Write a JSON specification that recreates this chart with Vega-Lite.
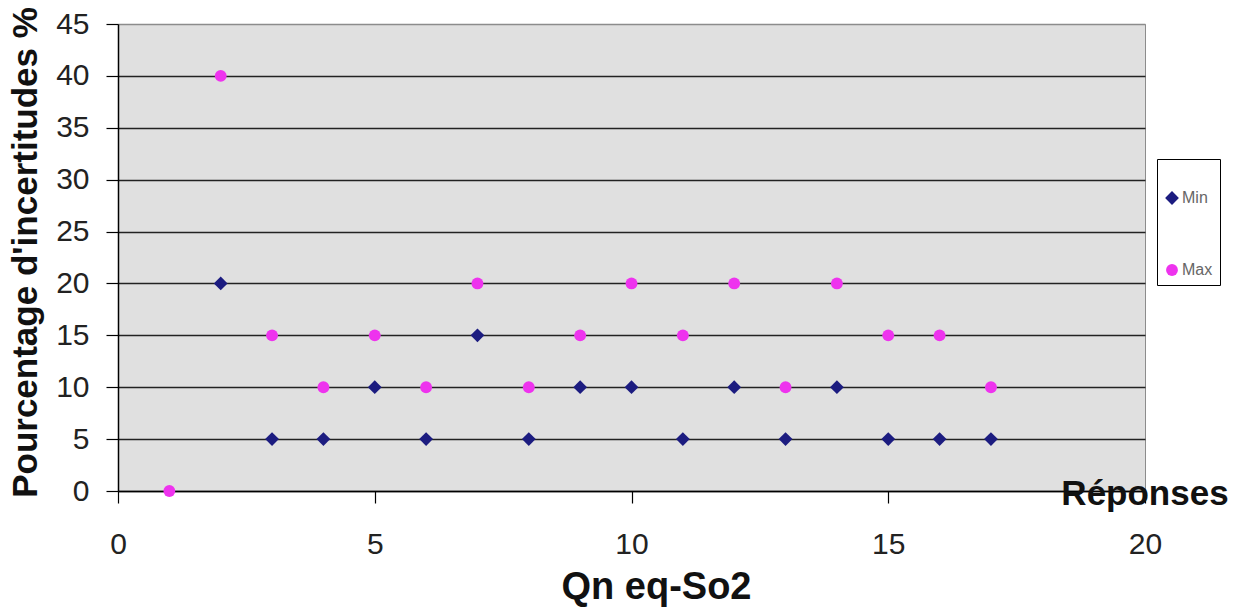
{
  "$schema": "https://vega.github.io/schema/vega-lite/v6.json",
  "width": 1027,
  "height": 467,
  "autosize": {"type": "none"},
  "padding": {"left": 118, "top": 24, "right": 96, "bottom": 119},
  "background": "white",
  "config": {
    "font": "Liberation Sans",
    "view": {"fill": "#e0e0e0", "stroke": "#8c8c8c", "strokeWidth": 1}
  },
  "layer": [
    {
      "data": {"values": [
        {"q": 2, "pct": 20, "serie": "Min"},
        {"q": 3, "pct": 5, "serie": "Min"},
        {"q": 4, "pct": 5, "serie": "Min"},
        {"q": 5, "pct": 10, "serie": "Min"},
        {"q": 6, "pct": 5, "serie": "Min"},
        {"q": 7, "pct": 15, "serie": "Min"},
        {"q": 8, "pct": 5, "serie": "Min"},
        {"q": 9, "pct": 10, "serie": "Min"},
        {"q": 10, "pct": 10, "serie": "Min"},
        {"q": 11, "pct": 5, "serie": "Min"},
        {"q": 12, "pct": 10, "serie": "Min"},
        {"q": 13, "pct": 5, "serie": "Min"},
        {"q": 14, "pct": 10, "serie": "Min"},
        {"q": 15, "pct": 5, "serie": "Min"},
        {"q": 16, "pct": 5, "serie": "Min"},
        {"q": 17, "pct": 5, "serie": "Min"},
        {"q": 1, "pct": 0, "serie": "Max"},
        {"q": 2, "pct": 40, "serie": "Max"},
        {"q": 3, "pct": 15, "serie": "Max"},
        {"q": 4, "pct": 10, "serie": "Max"},
        {"q": 5, "pct": 15, "serie": "Max"},
        {"q": 6, "pct": 10, "serie": "Max"},
        {"q": 7, "pct": 20, "serie": "Max"},
        {"q": 8, "pct": 10, "serie": "Max"},
        {"q": 9, "pct": 15, "serie": "Max"},
        {"q": 10, "pct": 20, "serie": "Max"},
        {"q": 11, "pct": 15, "serie": "Max"},
        {"q": 12, "pct": 20, "serie": "Max"},
        {"q": 13, "pct": 10, "serie": "Max"},
        {"q": 14, "pct": 20, "serie": "Max"},
        {"q": 15, "pct": 15, "serie": "Max"},
        {"q": 16, "pct": 15, "serie": "Max"},
        {"q": 17, "pct": 10, "serie": "Max"}
      ]},
      "mark": {"type": "point", "filled": true, "opacity": 1},
      "encoding": {
        "x": {
          "field": "q", "type": "quantitative",
          "scale": {"domain": [0, 20], "nice": false, "zero": false},
          "axis": {
            "title": "Qn eq-So2",
            "values": [0, 5, 10, 15, 20],
            "grid": false,
            "domainColor": "#000", "domainWidth": 1.5,
            "tickColor": "#000", "tickSize": 12, "tickWidth": 1.2,
            "labelFont": "Liberation Sans", "labelFontSize": 30, "labelColor": "#222",
            "labelPadding": 26, "labelFlush": false,
            "titleFont": "Liberation Sans", "titleFontSize": 38, "titleFontWeight": "bold", "titleColor": "#111",
            "titlePadding": 9, "titleX": 538
          }
        },
        "y": {
          "field": "pct", "type": "quantitative",
          "scale": {"domain": [0, 45], "nice": false},
          "axis": {
            "title": "Pourcentage d'incertitudes %",
            "values": [0, 5, 10, 15, 20, 25, 30, 35, 40, 45],
            "grid": true,
            "gridColor": {"condition": {"test": "datum.value == 45", "value": "#8c8c8c"}, "value": "#222"},
            "gridWidth": 1.6, "gridOpacity": 1,
            "domainColor": "#000", "domainWidth": 1.5,
            "tickColor": "#000", "tickSize": 12, "tickWidth": 1.2,
            "labelFont": "Liberation Sans", "labelFontSize": 30, "labelColor": "#222",
            "labelPadding": 17, "labelFlush": false,
            "titleFont": "Liberation Sans", "titleFontSize": 35, "titleFontWeight": "bold", "titleColor": "#111",
            "titleX": -93, "titleY": 228, "titleBaseline": "middle", "titleAngle": -90
          }
        },
        "color": {
          "field": "serie", "type": "nominal",
          "scale": {"domain": ["Min", "Max"], "range": ["#1c1c80", "#ee33ee"]},
          "legend": {
            "title": " ", "titleFontSize": 12, "titlePadding": 12,
            "orient": "none", "legendX": 1039, "legendY": 135,
            "strokeColor": "#000", "fillColor": "#fff", "padding": 7,
            "rowPadding": 56,
            "labelFont": "Liberation Sans", "labelFontSize": 16, "labelColor": "#666",
            "symbolSize": 110, "labelOffset": 2
          }
        },
        "shape": {
          "field": "serie", "type": "nominal",
          "scale": {"domain": ["Min", "Max"], "range": ["diamond", "circle"]},
          "legend": null
        },
        "size": {
          "field": "serie", "type": "nominal",
          "scale": {"domain": ["Min", "Max"], "range": [190, 140]},
          "legend": null
        }
      }
    },
    {
      "data": {"values": [{"q": 20, "pct": 0, "label": "Réponses"}]},
      "mark": {"type": "text", "font": "Liberation Sans", "fontSize": 35, "fontWeight": "bold", "color": "#111", "align": "center", "baseline": "alphabetic", "dy": 14},
      "encoding": {
        "x": {"field": "q", "type": "quantitative"},
        "y": {"field": "pct", "type": "quantitative"},
        "text": {"field": "label"}
      }
    }
  ]
}
